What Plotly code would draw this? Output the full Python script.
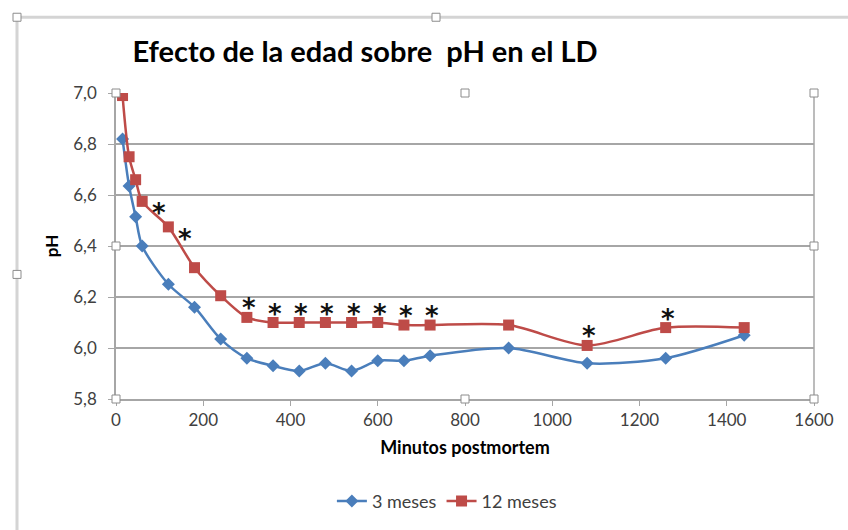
import plotly.graph_objects as go

# ---- data ----
minutes = [15, 30, 45, 60, 120, 180, 240, 300, 360, 420, 480, 540, 600, 660, 720, 900, 1080, 1260, 1440]
ph_3_meses = [6.82, 6.635, 6.515, 6.40, 6.25, 6.16, 6.035, 5.96, 5.93, 5.91, 5.94, 5.91, 5.95, 5.95, 5.97, 6.00, 5.94, 5.96, 6.05]
ph_12_meses = [6.99, 6.75, 6.66, 6.575, 6.475, 6.315, 6.205, 6.12, 6.10, 6.10, 6.10, 6.10, 6.10, 6.09, 6.09, 6.09, 6.01, 6.08, 6.08]
sig_right = [60, 120]
sig_above = [300, 360, 420, 480, 540, 600, 660, 720, 1080, 1260]
x_ticks = [0, 200, 400, 600, 800, 1000, 1200, 1400, 1600]
y_ticks = [5.8, 6.0, 6.2, 6.4, 6.6, 6.8, 7.0]

title_text = "Efecto de la edad sobre  pH en el LD"
x_title = "Minutos postmortem"
y_title = "pH"
names = ["3 meses", "12 meses"]

BLUE = "#4A7EBB"
RED = "#BE4B48"
FONT = "Lato"
GRID = "#A6A6A6"

fig = go.Figure()
fig.add_trace(go.Scatter(
    x=minutes, y=ph_3_meses, name=names[0], mode="lines+markers",
    line=dict(color=BLUE, width=2.5, shape="spline", smoothing=0.8),
    marker=dict(symbol="diamond", size=10, color=BLUE),
))
fig.add_trace(go.Scatter(
    x=minutes, y=ph_12_meses, name=names[1], mode="lines+markers",
    line=dict(color=RED, width=2.5, shape="spline", smoothing=0.8),
    marker=dict(symbol="square", size=11, color=RED),
))

lookup12 = dict(zip(minutes, ph_12_meses))
STAR_FONT = dict(family="DejaVu Sans", size=26, color="#111111", weight="bold")
annotations = []
for m in sig_right:
    annotations.append(dict(x=m, y=lookup12[m], text="*", showarrow=False,
                            xshift=17, yshift=-12, font=STAR_FONT))
for m in sig_above:
    annotations.append(dict(x=m, y=lookup12[m], text="*", showarrow=False,
                            xshift=2, yshift=9, font=STAR_FONT))

# selection handles (decorative, like the Excel screenshot)
shapes = []
def handle(px, py):
    return dict(type="rect", xref="paper", yref="paper", xsizemode="pixel", ysizemode="pixel",
                xanchor=px, yanchor=py, x0=-4, x1=4, y0=-4, y1=4,
                fillcolor="white", line=dict(color="#8C8C8C", width=1), layer="above")

# chart-area frame
L, T, W, H = 116, 93, 698, 307
def px2paper(x, y):
    return (x - L) / W, (T + H - y) / H
fx0, fy0 = px2paper(17, 17)
fx1, fy1 = px2paper(860, 540)
shapes.append(dict(type="line", xref="paper", yref="paper", x0=fx0, y0=fy0, x1=fx1, y1=fy0,
                   line=dict(color="#D4D4D4", width=3)))
shapes.append(dict(type="line", xref="paper", yref="paper", x0=fx0, y0=fy0, x1=fx0, y1=fy1,
                   line=dict(color="#D4D4D4", width=3)))
# right border of plot area
shapes.append(dict(type="line", xref="paper", yref="paper", x0=1, y0=0, x1=1, y1=1,
                   line=dict(color="#A6A6A6", width=1.5)))
for hx, hy in [(0, 1), (0.5, 1), (1, 1), (0, 0.5), (1, 0.5), (0, 0), (0.5, 0), (1, 0)]:
    shapes.append(handle(hx, hy))
for (hx, hy) in [(17, 17), (436, 17), (17, 275)]:
    a, b = px2paper(hx, hy)
    shapes.append(handle(a, b))

fig.update_layout(
    width=848, height=530,
    margin=dict(l=L, r=848 - L - W, t=T, b=530 - T - H),
    paper_bgcolor="white", plot_bgcolor="white",
    separators=", ",
    title=dict(text=title_text, x=365 / 848, xanchor="center", y=1 - 52 / 530, yanchor="middle",
               font=dict(family=FONT, size=29, color="#000000", weight="bold")),
    xaxis=dict(range=[0, 1600], tickvals=x_ticks, showgrid=False, showline=True, linecolor=GRID, linewidth=1.5,
               ticks="outside", ticklen=5, tickcolor=GRID, zeroline=False,
               tickfont=dict(family=FONT, size=17, color="#404040"),
               title=dict(text=x_title, font=dict(family=FONT, size=18, color="#000000", weight="bold"), standoff=12)),
    yaxis=dict(range=[5.8, 7.0], tickvals=y_ticks, tickformat=".1f", showgrid=True, gridcolor=GRID, gridwidth=1.5,
               showline=True, linecolor=GRID, linewidth=1.5, ticks="outside", ticklen=6, tickcolor=GRID,
               ticklabelstandoff=8,
               zeroline=False, tickfont=dict(family=FONT, size=17, color="#404040"),
               title=dict(text=y_title, font=dict(family=FONT, size=17, color="#000000", weight="bold"), standoff=10)),
    legend=dict(orientation="h", x=402 / 848, xanchor="center", y=-0.33, yanchor="middle",
                font=dict(family=FONT, size=18, color="#404040"), traceorder="normal"),
    annotations=annotations,
    shapes=shapes,
)

fig.write_html("out.html")
